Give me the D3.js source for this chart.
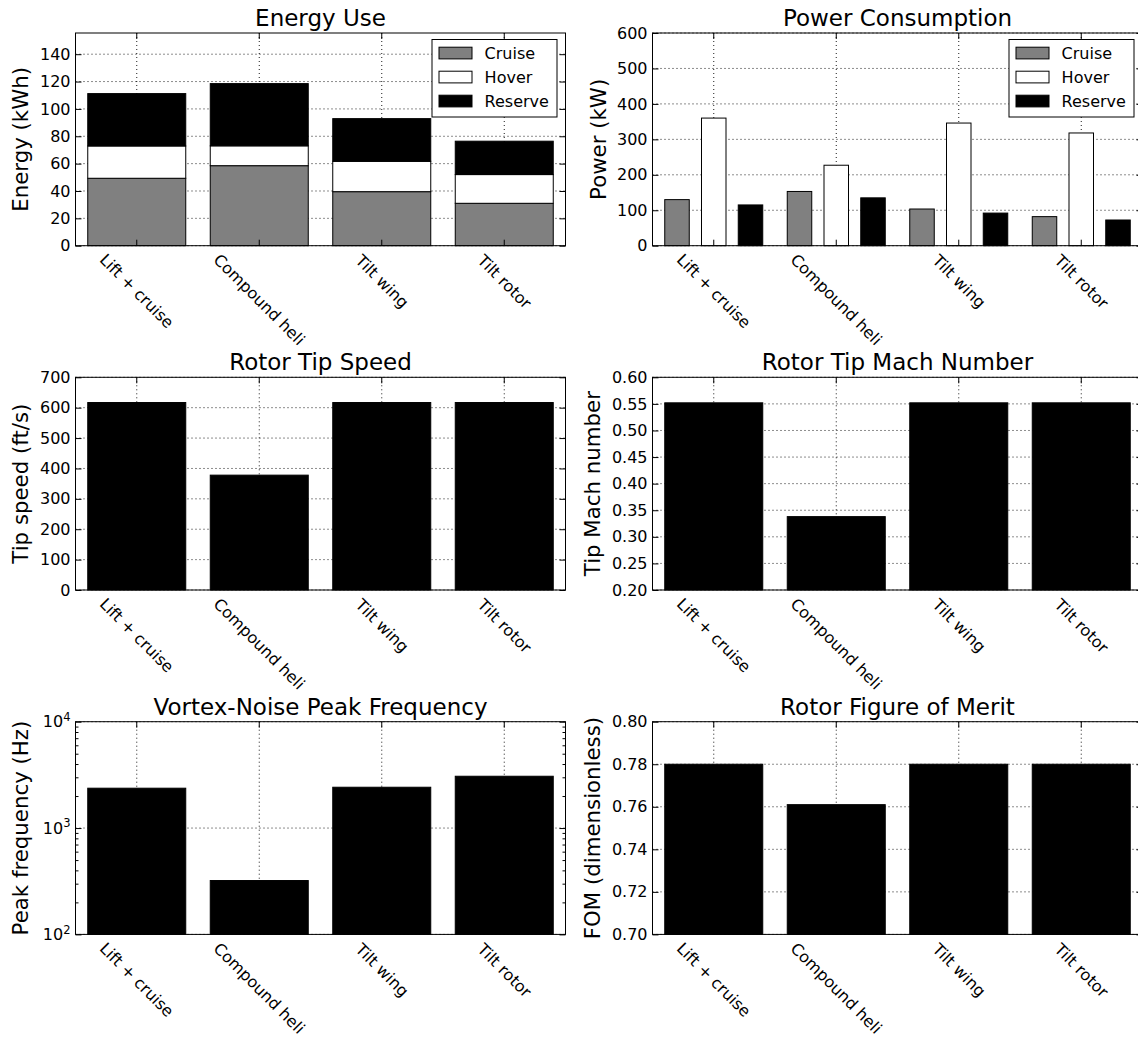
<!DOCTYPE html>
<html>
<head>
<meta charset="utf-8">
<script src="https://cdn.jsdelivr.net/npm/d3@7"></script>
<style>
  html, body { margin: 0; padding: 0; background: #fff; }
  svg { display: block; }
</style>
</head>
<body>
<script>
// ---------------- DATA ----------------
const categories = ["Lift + cruise", "Compound heli", "Tilt wing", "Tilt rotor"];
const seriesNames = ["Cruise", "Hover", "Reserve"];

const energyCruise  = [49.3, 58.5, 39.5, 31.0];
const energyHover   = [23.6, 14.5, 22.2, 21.0];
const energyReserve = [38.3, 45.5, 31.2, 24.4];

const powerCruise  = [130, 153, 103.5, 82];
const powerHover   = [360, 227, 346, 318];
const powerReserve = [115, 135, 92, 72.5];

const tipSpeed = [617, 378, 617, 617];
const tipMach  = [0.552, 0.338, 0.552, 0.552];
const peakFreq = [2370, 321, 2420, 3070];
const fom      = [0.780, 0.761, 0.780, 0.780];

const energyTicks = [0, 20, 40, 60, 80, 100, 120, 140];
const powerTicks  = [0, 100, 200, 300, 400, 500, 600];
const speedTicks  = [0, 100, 200, 300, 400, 500, 600, 700];
const machTicks   = [0.20, 0.25, 0.30, 0.35, 0.40, 0.45, 0.50, 0.55, 0.60];
const freqTicks   = [100, 1000, 10000];
const freqMinorTicks = [200, 300, 400, 500, 600, 700, 800, 900, 2000, 3000, 4000, 5000, 6000, 7000, 8000, 9000];
const fomTicks    = [0.70, 0.72, 0.74, 0.76, 0.78, 0.80];

const seriesColors = ["#808080", "#ffffff", "#000000"];

// ---------------- LAYOUT ----------------
const W = 1138, H = 1038;
const colX = [75.5, 652.5];
const plotW = 490;
const rowY = [33, 377.3, 721.7];
const plotH = 212.7;
const FONT = "DejaVu Sans";

const svg = d3.select("body").append("svg")
  .attr("width", W).attr("height", H)
  .attr("font-family", FONT);
svg.append("rect").attr("width", W).attr("height", H).attr("fill", "#fff");

function makePanel(opts) {
  const x0 = colX[opts.col], x1 = x0 + plotW;
  const yt = rowY[opts.row], yb = yt + plotH;
  const g = svg.append("g");

  const x = d3.scaleBand().domain(categories).range([x0, x1])
    .paddingInner(0.2).paddingOuter(0.1);
  const y = (opts.log ? d3.scaleLog() : d3.scaleLinear())
    .domain(opts.domain).range([yb, yt]);

  // grid
  const grid = g.append("g").attr("stroke", "#000").attr("stroke-width", 0.9)
    .attr("stroke-dasharray", "1,3");
  opts.ticks.forEach(v => {
    grid.append("line").attr("x1", x0).attr("x2", x1)
      .attr("y1", y(v)).attr("y2", y(v));
  });
  categories.forEach(c => {
    const cx = x(c) + x.bandwidth() / 2;
    grid.append("line").attr("x1", cx).attr("x2", cx)
      .attr("y1", yt).attr("y2", yb);
  });

  const bars = g.append("g");
  return { g, bars, x, y, x0, x1, yt, yb, opts };
}

function finishPanel(p) {
  const { g, x, y, x0, x1, yt, yb, opts } = p;
  // spines
  g.append("rect").attr("x", x0).attr("y", yt).attr("width", plotW).attr("height", plotH)
    .attr("fill", "none").attr("stroke", "#000").attr("stroke-width", 1);

  const styleAxis = sel => {
    sel.attr("font-size", 16).attr("font-family", FONT);
    sel.select(".domain").remove();
  };

  // left axis with labels
  const left = g.append("g").attr("transform", `translate(${x0},0)`)
    .call(d3.axisLeft(y).tickValues(opts.ticks).tickFormat(opts.fmt || (d => d))
      .tickSize(-6).tickPadding(5))
    .call(styleAxis);
  left.selectAll("text").attr("fill", "#000");
  if (opts.log) {
    left.selectAll(".tick text").each(function(d) {
      const t = d3.select(this);
      t.text("");
      t.append("tspan").text("10");
      t.append("tspan").attr("dy", "-0.55em").attr("font-size", "11.5px")
        .text(Math.round(Math.log10(d)));
    });
    g.append("g").attr("transform", `translate(${x0},0)`)
      .call(d3.axisLeft(y).tickValues(freqMinorTicks).tickFormat("").tickSize(-3))
      .call(styleAxis);
    g.append("g").attr("transform", `translate(${x1},0)`)
      .call(d3.axisRight(y).tickValues(freqMinorTicks).tickFormat("").tickSize(-3))
      .call(styleAxis);
  }
  // right axis ticks
  g.append("g").attr("transform", `translate(${x1},0)`)
    .call(d3.axisRight(y).tickValues(opts.ticks).tickFormat("").tickSize(-6))
    .call(styleAxis);
  // bottom ticks
  g.append("g").attr("transform", `translate(0,${yb})`)
    .call(d3.axisBottom(x).tickFormat("").tickSize(-6))
    .call(styleAxis);
  // top ticks
  g.append("g").attr("transform", `translate(0,${yt})`)
    .call(d3.axisTop(x).tickFormat("").tickSize(-6))
    .call(styleAxis);

  // rotated x tick labels
  const c45 = Math.SQRT1_2;
  categories.forEach(c => {
    const cx = x(c) + x.bandwidth() / 2;
    const t = g.append("text").attr("font-size", 16).attr("fill", "#000").text(c);
    const b = t.node().getBBox();
    const pts = [[b.x, b.y], [b.x + b.width, b.y], [b.x, b.y + b.height], [b.x + b.width, b.y + b.height]]
      .map(([px, py]) => [px * c45 - py * c45, px * c45 + py * c45]);
    const minX = d3.min(pts, d => d[0]), maxX = d3.max(pts, d => d[0]);
    const minY = d3.min(pts, d => d[1]);
    const tx = cx - (minX + maxX) / 2;
    const ty = yb + 4.5 - minY;
    t.attr("transform", `translate(${tx},${ty}) rotate(45)`);
  });

  // title
  g.append("text").attr("x", (x0 + x1) / 2).attr("y", yt - 7)
    .attr("text-anchor", "middle").attr("font-size", 23).attr("fill", "#000")
    .text(opts.title);
  // y label
  g.append("text")
    .attr("transform", `translate(${x0 - opts.labelOff},${(yt + yb) / 2}) rotate(-90)`)
    .attr("text-anchor", "middle").attr("font-size", 21.3).attr("fill", "#000")
    .text(opts.ylabel);
}

function legend(p) {
  const lw = 125, lh = 77.5;
  const lx = p.x1 - 8.5 - lw, ly = p.yt + 6.5;
  const lg = p.g.append("g").attr("transform", `translate(${lx},${ly})`);
  lg.append("rect").attr("width", lw).attr("height", lh)
    .attr("fill", "#fff").attr("stroke", "#000").attr("stroke-width", 1);
  seriesNames.forEach((s, i) => {
    lg.append("rect").attr("x", 7).attr("y", 7.7 + i * 24).attr("width", 33).attr("height", 11.7)
      .attr("fill", seriesColors[i]).attr("stroke", "#000").attr("stroke-width", 1);
    lg.append("text").attr("x", 52.6).attr("y", 7.7 + i * 24 + 5.85)
      .attr("dy", "0.35em").attr("font-size", 16).attr("fill", "#000").text(s);
  });
}

function simpleBars(p, values) {
  p.bars.selectAll("rect").data(categories).join("rect")
    .attr("x", c => p.x(c))
    .attr("width", p.x.bandwidth())
    .attr("y", (c, i) => p.y(values[i]))
    .attr("height", (c, i) => p.y.range()[0] - p.y(values[i]))
    .attr("fill", "#000").attr("stroke", "#000").attr("stroke-width", 1);
}

// ---------- Panel 1: Energy Use (stacked) ----------
const p1 = makePanel({ col: 0, row: 0, domain: [0, 155.5], ticks: energyTicks,
  title: "Energy Use", ylabel: "Energy (kWh)", labelOff: 47.3 });
const energyRows = categories.map((c, i) => ({ cat: c, Cruise: energyCruise[i], Hover: energyHover[i], Reserve: energyReserve[i] }));
const stacked = d3.stack().keys(seriesNames)(energyRows);
stacked.forEach((layer, si) => {
  p1.bars.append("g").selectAll("rect").data(layer).join("rect")
    .attr("x", d => p1.x(d.data.cat))
    .attr("width", p1.x.bandwidth())
    .attr("y", d => p1.y(d[1]))
    .attr("height", d => p1.y(d[0]) - p1.y(d[1]))
    .attr("fill", seriesColors[si]).attr("stroke", "#000").attr("stroke-width", 1);
});
finishPanel(p1);
legend(p1);

// ---------- Panel 2: Power Consumption (grouped) ----------
const p2 = makePanel({ col: 1, row: 0, domain: [0, 600], ticks: powerTicks,
  title: "Power Consumption", ylabel: "Power (kW)", labelOff: 47 });
const sub = d3.scaleBand().domain(seriesNames).range([0, p2.x.bandwidth()]).paddingInner(1 / 3);
const powerSeries = [powerCruise, powerHover, powerReserve];
seriesNames.forEach((s, si) => {
  p2.bars.append("g").selectAll("rect").data(categories).join("rect")
    .attr("x", c => p2.x(c) + sub(s))
    .attr("width", sub.bandwidth())
    .attr("y", (c, i) => p2.y(powerSeries[si][i]))
    .attr("height", (c, i) => p2.y(0) - p2.y(powerSeries[si][i]))
    .attr("fill", seriesColors[si]).attr("stroke", "#000").attr("stroke-width", 1);
});
finishPanel(p2);
legend(p2);

// ---------- Panel 3: Rotor Tip Speed ----------
const p3 = makePanel({ col: 0, row: 1, domain: [0, 700], ticks: speedTicks,
  title: "Rotor Tip Speed", ylabel: "Tip speed (ft/s)", labelOff: 47.3 });
simpleBars(p3, tipSpeed);
finishPanel(p3);

// ---------- Panel 4: Rotor Tip Mach Number ----------
const p4 = makePanel({ col: 1, row: 1, domain: [0.2, 0.6], ticks: machTicks,
  title: "Rotor Tip Mach Number", ylabel: "Tip Mach number", labelOff: 52.5,
  fmt: d3.format(".2f") });
simpleBars(p4, tipMach);
finishPanel(p4);

// ---------- Panel 5: Vortex-Noise Peak Frequency ----------
const p5 = makePanel({ col: 0, row: 2, domain: [100, 10000], ticks: freqTicks, log: true,
  title: "Vortex-Noise Peak Frequency", ylabel: "Peak frequency (Hz)", labelOff: 47.3 });
simpleBars(p5, peakFreq);
finishPanel(p5);

// ---------- Panel 6: Rotor Figure of Merit ----------
const p6 = makePanel({ col: 1, row: 2, domain: [0.70, 0.80], ticks: fomTicks,
  title: "Rotor Figure of Merit", ylabel: "FOM (dimensionless)", labelOff: 52.5,
  fmt: d3.format(".2f") });
simpleBars(p6, fom);
finishPanel(p6);
</script>
</body>
</html>
